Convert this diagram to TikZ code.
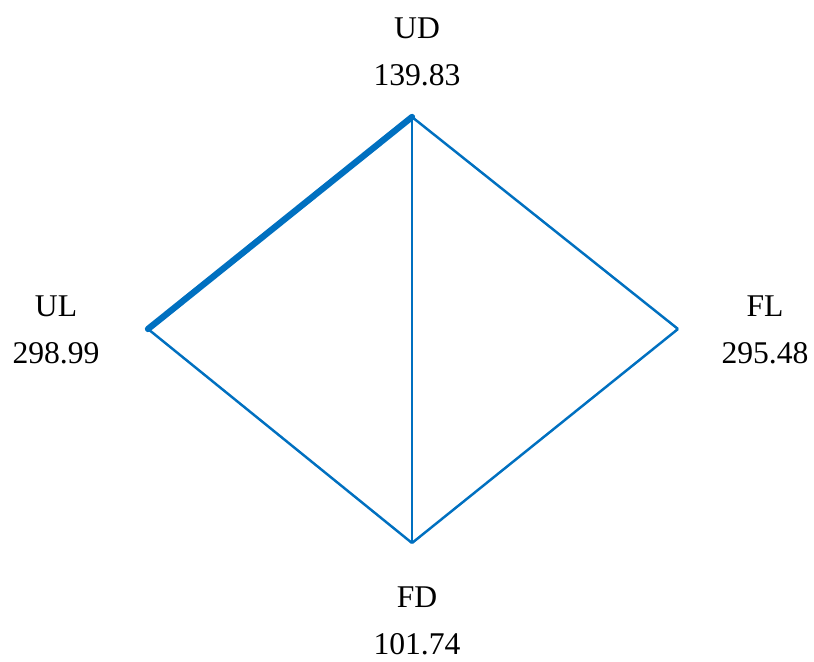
\documentclass[tikz,border=0pt]{standalone}
\usepackage{fontspec}
\setmainfont{Liberation Serif}
\definecolor{linkblue}{RGB}{0,112,192}
\tikzset{
  lbl/.style={align=center, font=\fontsize{18}{27}\selectfont, inner sep=0pt},
  link/.style={draw=linkblue, line width=1.4pt, line join=miter},
  strong/.style={draw=linkblue, line width=3.6pt, line cap=round}
}
\begin{document}
\begin{tikzpicture}[x=0.02cm, y=-0.02cm]
        \useasboundingbox (0,0) rectangle (814,662);

        % Ecken
        \coordinate (UD) at (412,117);
        \coordinate (UL) at (148,329);
        \coordinate (FL) at (678,329);
        \coordinate (FD) at (412,543);

        % Beschriftungen
        \node[lbl] (tUD) at (417,52) {UD\\139.83};
        \node[lbl] (tUL) at (56,330) {UL\\298.99};
        \node[lbl] (tFL) at (765,330) {FL\\295.48};
        \node[lbl] (tFD) at (417,621) {FD\\101.74};

        % Verbindungen
        \draw[link] (UD) -- (FL);
        \draw[link] (FL) -- (FD);
        \draw[link] (FD) -- (UL);
        \draw[link] (UD) -- (FD);
        \draw[strong] (UL) -- (UD);

    \end{tikzpicture}
\end{document}
